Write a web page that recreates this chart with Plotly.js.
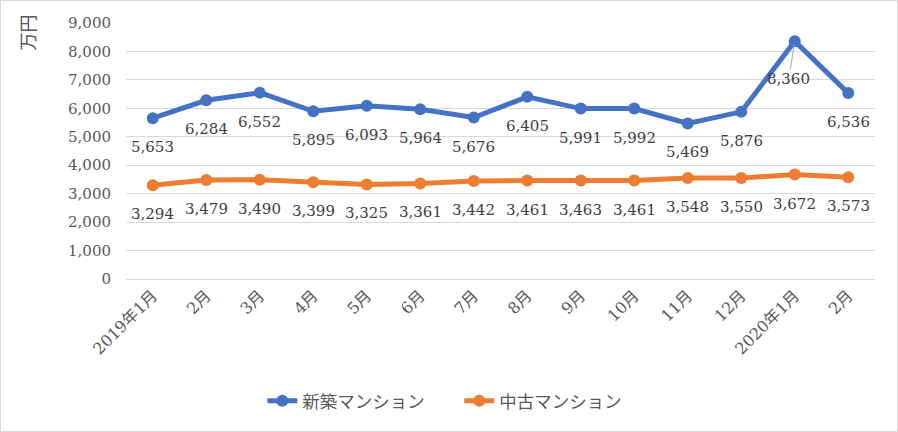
<!DOCTYPE html>
<html><head><meta charset="utf-8">
<script src="https://cdn.plot.ly/plotly-3.0.1.min.js"></script>
<style>
html,body{margin:0;padding:0;background:#fff;}
#wrap{position:relative;width:898px;height:432px;}
#chart{width:898px;height:432px;}
#frame{position:absolute;left:0;top:0;width:898px;height:432px;box-sizing:border-box;border:1px solid #d9d9d9;pointer-events:none;}
</style></head>
<body>
<div id="wrap"><div id="chart"></div><div id="frame"></div></div>
<script>
const categories = ["2019年1月","2月","3月","4月","5月","6月","7月","8月","9月","10月","11月","12月","2020年1月","2月"];
const shinchiku = [5653,6284,6552,5895,6093,5964,5676,6405,5991,5992,5469,5876,8360,6536];
const chuko = [3294,3479,3490,3399,3325,3361,3442,3461,3463,3461,3548,3550,3672,3573];
const seriesNames = ["新築マンション","中古マンション"];
const yTitle = "万円";

const FONT = "DejaVu Serif, Noto Sans CJK JP, serif";
const idx = categories.map((_, i) => i);
const fmt = v => v.toLocaleString('en-US');

const traces = [
  {x: idx, y: shinchiku, name: seriesNames[0], type: 'scatter', mode: 'lines+markers',
   line: {color: '#4472C4', width: 5}, marker: {color: '#4472C4', size: 12}, hoverinfo: 'skip'},
  {x: idx, y: chuko, name: seriesNames[1], type: 'scatter', mode: 'lines+markers',
   line: {color: '#ED7D31', width: 5}, marker: {color: '#ED7D31', size: 12}, hoverinfo: 'skip'}
];

const LBL = {family: FONT, size: 15, color: '#404040'};
const annotations = [];
shinchiku.forEach((v, i) => {
  if (v === Math.max(...shinchiku)) {
    annotations.push({x: i, y: v, xref: 'x', yref: 'y', text: fmt(v), showarrow: true,
      arrowhead: 0, arrowwidth: 1, arrowcolor: '#a6a6a6', ax: -6, ay: 38, standoff: 3,
      font: LBL});
  } else {
    annotations.push({x: i, y: v, xref: 'x', yref: 'y', text: fmt(v), showarrow: false,
      yshift: -29, font: LBL});
  }
});
chuko.forEach((v, i) => {
  annotations.push({x: i, y: v, xref: 'x', yref: 'y', text: fmt(v), showarrow: false,
    yshift: -29, font: LBL});
});
annotations.push({text: yTitle, xref: 'paper', yref: 'paper', x: -0.13, y: 1.04,
  xanchor: 'center', yanchor: 'top', textangle: -90, showarrow: false,
  font: {family: FONT, size: 18, color: '#595959'}});

const layout = {
  width: 898, height: 432,
  margin: {l: 126, r: 23, t: 22.5, b: 153},
  paper_bgcolor: '#fff', plot_bgcolor: '#fff',
  font: {family: FONT, color: '#595959'},
  showlegend: true,
  legend: {orientation: 'h', x: 0.445, xanchor: 'center', y: -0.476, yanchor: 'middle',
    entrywidth: 152, entrywidthmode: 'pixels',
    font: {family: FONT, size: 17.5, color: '#595959'}},
  xaxis: {tickmode: 'array', tickvals: idx, ticktext: categories, range: [-0.5, 13.5],
    tickangle: -45, showgrid: false, zeroline: false, showline: true, linecolor: '#d9d9d9',
    ticks: '', tickfont: {family: FONT, size: 16, color: '#595959'}},
  yaxis: {range: [0, 9000], dtick: 1000, tickformat: ',d', showgrid: true, gridcolor: '#d9d9d9',
    gridwidth: 1, zeroline: false, showline: false, ticks: '', ticklabelstandoff: 14,
    tickfont: {family: FONT, size: 15, color: '#595959'}},
  annotations: annotations
};

Plotly.newPlot('chart', traces, layout, {displayModeBar: false, staticPlot: true});
</script>
</body></html>
